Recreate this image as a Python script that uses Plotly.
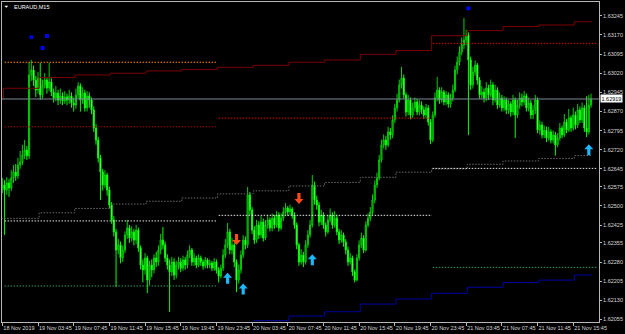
import plotly.graph_objects as go

# ---------------- candle data (EURAUD M15, bar index 0 = 18 Nov 23:45) ----------------
opens = [
    1.62570, 1.62582, 1.62562, 1.62590, 1.62570, 1.62609, 1.62633, 1.62617, 1.62660, 1.62672,
    1.62699, 1.62719, 1.62696, 1.63013, 1.63033, 1.62993, 1.62954, 1.63001, 1.62935, 1.62974,
    1.62993, 1.62962, 1.62986, 1.62946, 1.62923, 1.62942, 1.62915, 1.62931, 1.62911, 1.62927,
    1.62915, 1.62931, 1.62903, 1.62895, 1.62935, 1.62970, 1.62915, 1.62942, 1.62884, 1.62931,
    1.62915, 1.62876, 1.62805, 1.62758, 1.62688, 1.62633, 1.62582, 1.62621, 1.62562, 1.62503,
    1.62445, 1.62398, 1.62327, 1.62347, 1.62296, 1.62327, 1.62386, 1.62413, 1.62374, 1.62398,
    1.62366, 1.62405, 1.62335, 1.62268, 1.62249, 1.62296, 1.62209, 1.62268, 1.62249, 1.62296,
    1.62280, 1.62327, 1.62366, 1.62347, 1.62296, 1.62268, 1.62241, 1.62280, 1.62229, 1.62268,
    1.62280, 1.62256, 1.62288, 1.62268, 1.62307, 1.62327, 1.62280, 1.62296, 1.62268, 1.62296,
    1.62280, 1.62264, 1.62288, 1.62268, 1.62276, 1.62256, 1.62280, 1.62249, 1.62225, 1.62256,
    1.62307, 1.62347, 1.62398, 1.62327, 1.62347, 1.62280, 1.62209, 1.62249, 1.62307, 1.62366,
    1.62347, 1.62543, 1.62484, 1.62405, 1.62366, 1.62425, 1.62386, 1.62437, 1.62374, 1.62425,
    1.62445, 1.62413, 1.62452, 1.62425, 1.62464, 1.62413, 1.62452, 1.62476, 1.62492, 1.62476,
    1.62488, 1.62464, 1.62425, 1.62347, 1.62280, 1.62307, 1.62280, 1.62347, 1.62386, 1.62425,
    1.62582, 1.62523, 1.62503, 1.62437, 1.62464, 1.62425, 1.62398, 1.62445, 1.62464, 1.62425,
    1.62452, 1.62398, 1.62366, 1.62386, 1.62358, 1.62327, 1.62280, 1.62296, 1.62241, 1.62209,
    1.62296, 1.62347, 1.62374, 1.62327, 1.62425, 1.62452, 1.62476, 1.62523, 1.62582, 1.62609,
    1.62680, 1.62739, 1.62758, 1.62739, 1.62790, 1.62778, 1.62837, 1.62884, 1.62915, 1.62974,
    1.63001, 1.62935, 1.62868, 1.62915, 1.62856, 1.62884, 1.62907, 1.62868, 1.62895, 1.62876,
    1.62856, 1.62884, 1.62829, 1.62758, 1.62856, 1.62923, 1.62954, 1.62915, 1.62946, 1.62907,
    1.62935, 1.62899, 1.62923, 1.62954, 1.63033, 1.63064, 1.63103, 1.63131, 1.63150, 1.63170,
    1.63072, 1.62974, 1.63025, 1.63052, 1.62993, 1.62935, 1.62946, 1.62923, 1.62962, 1.62935,
    1.62974, 1.62915, 1.62954, 1.62895, 1.62923, 1.62884, 1.62915, 1.62876, 1.62899, 1.62868,
    1.62915, 1.62856, 1.62895, 1.62923, 1.62907, 1.62931, 1.62884, 1.62903, 1.62856, 1.62876,
    1.62915, 1.62797, 1.62817, 1.62778, 1.62797, 1.62766, 1.62790, 1.62758, 1.62778, 1.62739,
    1.62766, 1.62805, 1.62778, 1.62829, 1.62797, 1.62845, 1.62805, 1.62856, 1.62817, 1.62876,
    1.62837, 1.62884, 1.62805, 1.62790, 1.62895,
]
highs = [
    1.62609, 1.62601, 1.62613, 1.62605, 1.62641, 1.62660, 1.62664, 1.62688, 1.62715, 1.62739,
    1.62758, 1.62735, 1.63064, 1.63072, 1.63050, 1.63010, 1.63025, 1.63060, 1.62995, 1.63020,
    1.63005, 1.63060, 1.63000, 1.62960, 1.62970, 1.62955, 1.62960, 1.62945, 1.62950, 1.62940,
    1.62955, 1.62945, 1.62925, 1.62960, 1.62985, 1.62980, 1.62965, 1.62955, 1.62950, 1.62945,
    1.62925, 1.62890, 1.62820, 1.62770, 1.62700, 1.62645, 1.62640, 1.62630, 1.62575, 1.62515,
    1.62460, 1.62410, 1.62370, 1.62360, 1.62345, 1.62400, 1.62445, 1.62425, 1.62420, 1.62410,
    1.62425, 1.62415, 1.62345, 1.62290, 1.62315, 1.62305, 1.62285, 1.62290, 1.62310, 1.62320,
    1.62345, 1.62390, 1.62417, 1.62360, 1.62310, 1.62290, 1.62300, 1.62295, 1.62285, 1.62300,
    1.62295, 1.62305, 1.62300, 1.62325, 1.62345, 1.62335, 1.62315, 1.62305, 1.62310, 1.62305,
    1.62290, 1.62300, 1.62295, 1.62290, 1.62285, 1.62295, 1.62290, 1.62260, 1.62270, 1.62330,
    1.62370, 1.62433, 1.62410, 1.62375, 1.62355, 1.62290, 1.62270, 1.62325, 1.62385, 1.62380,
    1.62574, 1.62555, 1.62495, 1.62420, 1.62445, 1.62440, 1.62460, 1.62450, 1.62445, 1.62465,
    1.62455, 1.62470, 1.62465, 1.62480, 1.62475, 1.62470, 1.62495, 1.62511, 1.62500, 1.62505,
    1.62495, 1.62475, 1.62435, 1.62355, 1.62330, 1.62320, 1.62365, 1.62405, 1.62445, 1.62621,
    1.62595, 1.62540, 1.62515, 1.62485, 1.62475, 1.62435, 1.62465, 1.62490, 1.62475, 1.62480,
    1.62465, 1.62410, 1.62405, 1.62395, 1.62370, 1.62340, 1.62315, 1.62305, 1.62250, 1.62310,
    1.62365, 1.62395, 1.62385, 1.62440, 1.62470, 1.62495, 1.62545, 1.62600, 1.62630, 1.62700,
    1.62760, 1.62780, 1.62775, 1.62810, 1.62805, 1.62855, 1.62900, 1.62940, 1.62995, 1.63045,
    1.63015, 1.62945, 1.62935, 1.62925, 1.62905, 1.62925, 1.62920, 1.62915, 1.62910, 1.62890,
    1.62900, 1.62895, 1.62840, 1.62870, 1.62945, 1.63005, 1.62965, 1.62965, 1.62955, 1.62950,
    1.62945, 1.62940, 1.62975, 1.63050, 1.63085, 1.63125, 1.63160, 1.63236, 1.63190, 1.63180,
    1.63085, 1.63045, 1.63070, 1.63060, 1.63005, 1.62970, 1.62960, 1.62985, 1.62975, 1.62995,
    1.62985, 1.62975, 1.62965, 1.62945, 1.62935, 1.62930, 1.62925, 1.62915, 1.62910, 1.62935,
    1.62925, 1.62915, 1.62945, 1.62940, 1.62950, 1.62940, 1.62925, 1.62915, 1.62895, 1.62935,
    1.62925, 1.62835, 1.62830, 1.62815, 1.62810, 1.62810, 1.62800, 1.62795, 1.62790, 1.62785,
    1.62825, 1.62815, 1.62860, 1.62840, 1.62880, 1.62855, 1.62885, 1.62870, 1.62900, 1.62890,
    1.62905, 1.62895, 1.62930, 1.62935, 1.62940,
]
lows = [
    1.62550, 1.62386, 1.62543, 1.62535, 1.62558, 1.62590, 1.62598, 1.62605, 1.62645, 1.62660,
    1.62684, 1.62680, 1.62684, 1.62990, 1.62970, 1.62927, 1.62940, 1.62915, 1.62920, 1.62960,
    1.62940, 1.62950, 1.62930, 1.62905, 1.62910, 1.62895, 1.62900, 1.62895, 1.62900, 1.62895,
    1.62900, 1.62885, 1.62870, 1.62880, 1.62920, 1.62870, 1.62900, 1.62870, 1.62870, 1.62885,
    1.62860, 1.62790, 1.62740, 1.62670, 1.62523, 1.62560, 1.62570, 1.62540, 1.62490, 1.62430,
    1.62380, 1.62182, 1.62310, 1.62275, 1.62280, 1.62315, 1.62370, 1.62355, 1.62360, 1.62345,
    1.62350, 1.62320, 1.62250, 1.62200, 1.62230, 1.62158, 1.62190, 1.62220, 1.62235, 1.62260,
    1.62265, 1.62310, 1.62330, 1.62280, 1.62250, 1.62084, 1.62225, 1.62210, 1.62215, 1.62250,
    1.62240, 1.62245, 1.62250, 1.62255, 1.62295, 1.62265, 1.62265, 1.62255, 1.62260, 1.62265,
    1.62250, 1.62255, 1.62255, 1.62255, 1.62245, 1.62245, 1.62235, 1.62200, 1.62215, 1.62245,
    1.62295, 1.62335, 1.62310, 1.62310, 1.62260, 1.62162, 1.62195, 1.62235, 1.62295, 1.62330,
    1.62335, 1.62465, 1.62390, 1.62350, 1.62355, 1.62370, 1.62375, 1.62360, 1.62365, 1.62410,
    1.62400, 1.62400, 1.62410, 1.62415, 1.62400, 1.62405, 1.62440, 1.62465, 1.62460, 1.62465,
    1.62450, 1.62410, 1.62330, 1.62265, 1.62270, 1.62260, 1.62270, 1.62335, 1.62375, 1.62415,
    1.62505, 1.62485, 1.62420, 1.62425, 1.62410, 1.62380, 1.62390, 1.62435, 1.62410, 1.62415,
    1.62385, 1.62350, 1.62355, 1.62340, 1.62310, 1.62265, 1.62270, 1.62225, 1.62200, 1.62205,
    1.62285, 1.62335, 1.62315, 1.62320, 1.62415, 1.62440, 1.62465, 1.62510, 1.62570, 1.62600,
    1.62670, 1.62725, 1.62720, 1.62730, 1.62760, 1.62765, 1.62825, 1.62870, 1.62905, 1.62960,
    1.62920, 1.62850, 1.62855, 1.62840, 1.62845, 1.62870, 1.62855, 1.62855, 1.62860, 1.62840,
    1.62845, 1.62815, 1.62742, 1.62750, 1.62845, 1.62910, 1.62900, 1.62905, 1.62895, 1.62895,
    1.62885, 1.62885, 1.62910, 1.62945, 1.63015, 1.63050, 1.63090, 1.63115, 1.63130, 1.62778,
    1.62955, 1.62960, 1.63010, 1.62975, 1.62920, 1.62920, 1.62905, 1.62910, 1.62915, 1.62925,
    1.62895, 1.62905, 1.62880, 1.62885, 1.62870, 1.62870, 1.62860, 1.62860, 1.62850, 1.62855,
    1.62766, 1.62845, 1.62880, 1.62890, 1.62895, 1.62870, 1.62870, 1.62840, 1.62840, 1.62860,
    1.62785, 1.62780, 1.62765, 1.62765, 1.62750, 1.62755, 1.62745, 1.62745, 1.62697, 1.62730,
    1.62755, 1.62765, 1.62770, 1.62785, 1.62790, 1.62790, 1.62795, 1.62800, 1.62805, 1.62825,
    1.62825, 1.62790, 1.62770, 1.62780, 1.62885,
]
closes = [
    1.62582, 1.62562, 1.62590, 1.62570, 1.62609, 1.62633, 1.62617, 1.62660, 1.62672, 1.62699,
    1.62719, 1.62696, 1.63013, 1.63033, 1.62993, 1.62954, 1.63001, 1.62935, 1.62974, 1.62993,
    1.62962, 1.62986, 1.62946, 1.62923, 1.62942, 1.62915, 1.62931, 1.62911, 1.62927, 1.62915,
    1.62931, 1.62903, 1.62895, 1.62935, 1.62970, 1.62915, 1.62942, 1.62884, 1.62931, 1.62915,
    1.62876, 1.62805, 1.62758, 1.62688, 1.62633, 1.62582, 1.62621, 1.62562, 1.62503, 1.62445,
    1.62398, 1.62327, 1.62347, 1.62296, 1.62327, 1.62386, 1.62413, 1.62374, 1.62398, 1.62366,
    1.62405, 1.62335, 1.62268, 1.62249, 1.62296, 1.62209, 1.62268, 1.62249, 1.62296, 1.62280,
    1.62327, 1.62366, 1.62347, 1.62296, 1.62268, 1.62241, 1.62280, 1.62229, 1.62268, 1.62280,
    1.62256, 1.62288, 1.62268, 1.62307, 1.62327, 1.62280, 1.62296, 1.62268, 1.62296, 1.62280,
    1.62264, 1.62288, 1.62268, 1.62276, 1.62256, 1.62280, 1.62249, 1.62225, 1.62256, 1.62307,
    1.62347, 1.62398, 1.62327, 1.62347, 1.62280, 1.62209, 1.62249, 1.62307, 1.62366, 1.62347,
    1.62543, 1.62484, 1.62405, 1.62366, 1.62425, 1.62386, 1.62437, 1.62374, 1.62425, 1.62445,
    1.62413, 1.62452, 1.62425, 1.62464, 1.62413, 1.62452, 1.62476, 1.62492, 1.62476, 1.62488,
    1.62464, 1.62425, 1.62347, 1.62280, 1.62307, 1.62280, 1.62347, 1.62386, 1.62425, 1.62582,
    1.62523, 1.62503, 1.62437, 1.62464, 1.62425, 1.62398, 1.62445, 1.62464, 1.62425, 1.62452,
    1.62398, 1.62366, 1.62386, 1.62358, 1.62327, 1.62280, 1.62296, 1.62241, 1.62209, 1.62296,
    1.62347, 1.62374, 1.62327, 1.62425, 1.62452, 1.62476, 1.62523, 1.62582, 1.62609, 1.62680,
    1.62739, 1.62758, 1.62739, 1.62790, 1.62778, 1.62837, 1.62884, 1.62915, 1.62974, 1.63001,
    1.62935, 1.62868, 1.62915, 1.62856, 1.62884, 1.62907, 1.62868, 1.62895, 1.62876, 1.62856,
    1.62884, 1.62829, 1.62758, 1.62856, 1.62923, 1.62954, 1.62915, 1.62946, 1.62907, 1.62935,
    1.62899, 1.62923, 1.62954, 1.63033, 1.63064, 1.63103, 1.63131, 1.63150, 1.63170, 1.63072,
    1.62974, 1.63025, 1.63052, 1.62993, 1.62935, 1.62946, 1.62923, 1.62962, 1.62935, 1.62974,
    1.62915, 1.62954, 1.62895, 1.62923, 1.62884, 1.62915, 1.62876, 1.62899, 1.62868, 1.62915,
    1.62856, 1.62895, 1.62923, 1.62907, 1.62931, 1.62884, 1.62903, 1.62856, 1.62876, 1.62915,
    1.62797, 1.62817, 1.62778, 1.62797, 1.62766, 1.62790, 1.62758, 1.62778, 1.62739, 1.62766,
    1.62805, 1.62778, 1.62829, 1.62797, 1.62845, 1.62805, 1.62856, 1.62817, 1.62876, 1.62837,
    1.62884, 1.62805, 1.62790, 1.62895, 1.62919,
]
bars = list(range(len(closes)))

# ---------------- axis labels ----------------
time_label_bars = [0, 16, 32, 48, 64, 80, 96, 112, 128, 144, 160, 176, 192, 208, 224, 240, 256]
time_labels = ["18 Nov 2019", "19 Nov 03:45", "19 Nov 07:45", "19 Nov 11:45", "19 Nov 15:45",
               "19 Nov 19:45", "19 Nov 23:45", "20 Nov 03:45", "20 Nov 07:45", "20 Nov 11:45",
               "20 Nov 15:45", "20 Nov 19:45", "20 Nov 23:45", "21 Nov 03:45", "21 Nov 07:45",
               "21 Nov 11:45", "21 Nov 15:45"]
price_tick_labels = ["1.63245", "1.63170", "1.63095", "1.63020", "1.62945", "1.62870", "1.62795",
                     "1.62720", "1.62645", "1.62575", "1.62500", "1.62425", "1.62355", "1.62280",
                     "1.62205", "1.62130", "1.62055"]
price_ticks = [float(t) for t in price_tick_labels]

# ---------------- indicator data ----------------
h4_step_bars = [0, 1, 17, 33, 49, 65, 81, 97, 113, 129, 145, 161, 177, 193, 209, 225, 241, 257]
upper_band = [1.62923, 1.62961, 1.63003, 1.63013, 1.63020, 1.63029, 1.63035, 1.63043, 1.63051,
              1.63063, 1.63072, 1.63094, 1.63109, 1.63167, 1.63187, 1.63203, 1.63209, 1.63222]
lower_band = [1.62451, 1.62451, 1.62473, 1.62490, 1.62507, 1.62518, 1.62531, 1.62547, 1.62559,
              1.62578, 1.62592, 1.62612, 1.62632, 1.62645, 1.62663, 1.62676, 1.62686, 1.62697]
blue_step_bars = [113, 129, 145, 161, 177, 193, 209, 225, 241, 257]
blue_band = [1.62050, 1.62068, 1.62085, 1.62115, 1.62135, 1.62157, 1.62181, 1.62200, 1.62209, 1.62229]

day_start = [1, 97, 193]
day_end = [96.3, 192.6, 266.6]
level_orange = [1.63063, None, None]
level_red = [1.62810, 1.62844, 1.63137]
level_white = [1.62441, 1.62463, 1.62647]
level_green = [1.62186, None, 1.62259]

current_price = 1.62919

fractal_bars = [13, 18, 20, 209]
fractal_prices = [1.63161, 1.63119, 1.63166, 1.63274]
fractal_symbols = ["x", "square", "square", "square"]

up_arrow_bars = [101, 108, 139, 263]
up_arrow_prices = [1.62238, 1.62196, 1.62310, 1.62742]
down_arrow_bars = [105, 133]
down_arrow_prices = [1.62347, 1.62507]

FONT = "Liberation Sans"
DOT = "1.5px,1.5px"

fig = go.Figure()

fig.add_trace(go.Candlestick(
    x=bars, open=opens, high=highs, low=lows, close=closes,
    increasing=dict(line=dict(color="#00d000", width=1), fillcolor="#005a00"),
    decreasing=dict(line=dict(color="#00ff00", width=1), fillcolor="#e6ffe6"),
    whiskerwidth=0, hoverinfo="skip", showlegend=False,
))


def step_xy(starts, vals, end):
    xs = [s - 0.5 for s in starts] + [end]
    ys = list(vals) + [vals[-1]]
    return xs, ys


last = bars[-1] + 0.5
for starts, vals, color, dash in [
    (h4_step_bars, upper_band, "#7a0000", "solid"),
    (h4_step_bars, lower_band, "#6a6a6a", DOT),
    (blue_step_bars, blue_band, "#0000a0", "solid"),
]:
    xs, ys = step_xy(starts, vals, last)
    fig.add_trace(go.Scatter(x=xs, y=ys, mode="lines", line=dict(color=color, width=1, dash=dash, shape="hv"),
                             hoverinfo="skip", showlegend=False))

red_colors = ["#a00000", "#e00000", "#d00000"]
for d in range(len(day_start)):
    for lev, color in [(level_orange, "#ff8c00"), (level_red, red_colors[d]),
                       (level_white, "#e8e8e8"), (level_green, "#2e9a60")]:
        if lev[d] is None:
            continue
        fig.add_trace(go.Scatter(x=[day_start[d], day_end[d]], y=[lev[d], lev[d]], mode="lines",
                                 line=dict(color=color, width=1, dash=DOT),
                                 hoverinfo="skip", showlegend=False))

fig.add_trace(go.Scatter(x=[-1, 300], y=[current_price, current_price], mode="lines",
                         line=dict(color="#7d8a96", width=1), hoverinfo="skip", showlegend=False))

fig.add_trace(go.Scatter(x=fractal_bars, y=fractal_prices, mode="markers",
                         marker=dict(symbol=fractal_symbols, size=3, color="#0000ff",
                                     line=dict(color="#0000ff", width=1)),
                         hoverinfo="skip", showlegend=False))

# arrow glyph outline in pixels, tip at (0, 0), pointing up (y positive = up)
ARROW_UP = "M 0 0 L 4.5 -5 L 1.6 -5 L 1.6 -11 L -1.6 -11 L -1.6 -5 L -4.5 -5 Z"
ARROW_DOWN = "M 0 0 L 4.5 5 L 1.6 5 L 1.6 11 L -1.6 11 L -1.6 5 L -4.5 5 Z"

shapes = []
for b, p in zip(up_arrow_bars, up_arrow_prices):
    shapes.append(dict(type="path", xref="x", yref="y", xsizemode="pixel", ysizemode="pixel",
                       xanchor=b, yanchor=p, path=ARROW_UP, fillcolor="#1ab8ff", line=dict(width=0)))
for b, p in zip(down_arrow_bars, down_arrow_prices):
    shapes.append(dict(type="path", xref="x", yref="y", xsizemode="pixel", ysizemode="pixel",
                       xanchor=b, yanchor=p, path=ARROW_DOWN, fillcolor="#ff4a1a", line=dict(width=0)))

shapes.append(dict(type="path", xref="paper", yref="paper",
                   path="M 0.0039 0.9884 L 0.0106 0.9884 L 0.0072 0.9822 Z",
                   fillcolor="#ffffff", line=dict(width=0)))

annotations = [
    dict(x=0.0163, y=0.9853, xref="paper", yref="paper", text="EURAUD,M15",
         showarrow=False, xanchor="left", yanchor="middle",
         font=dict(family=FONT, size=5.5, color="#ffffff")),
    dict(x=1, y=current_price, xref="paper", yref="y", text="1.62919", showarrow=False,
         xanchor="left", yanchor="middle", xshift=0.5, bgcolor="#ffffff", borderpad=0.5,
         font=dict(family=FONT, size=5.5, color="#000000")),
]

fig.update_layout(
    width=625, height=334,
    margin=dict(l=2, r=26, t=2, b=12, pad=0),
    paper_bgcolor="#000000", plot_bgcolor="#000000",
    showlegend=False, hovermode=False,
    annotations=annotations, shapes=shapes,
    xaxis=dict(range=[-0.15, 267.56], showgrid=False, zeroline=False, rangeslider=dict(visible=False),
               showline=True, mirror=True, linecolor="#b8b8b8", linewidth=1,
               tickmode="array", tickvals=time_label_bars, ticktext=time_labels, tickangle=0,
               ticks="outside", ticklen=3, tickcolor="#b8b8b8", ticklabelposition="outside right",
               tickfont=dict(family=FONT, size=5.5, color="#d8d8d8"), automargin=False, fixedrange=True),
    yaxis=dict(range=[1.620448, 1.632992], side="right", showgrid=False, zeroline=False,
               showline=True, mirror=True, linecolor="#b8b8b8", linewidth=1,
               tickmode="array", tickvals=price_ticks, ticktext=price_tick_labels,
               ticks="outside", ticklen=2, tickcolor="#b8b8b8",
               tickfont=dict(family=FONT, size=5.5, color="#d8d8d8"), automargin=False, fixedrange=True),
)

fig.write_html("out.html")
